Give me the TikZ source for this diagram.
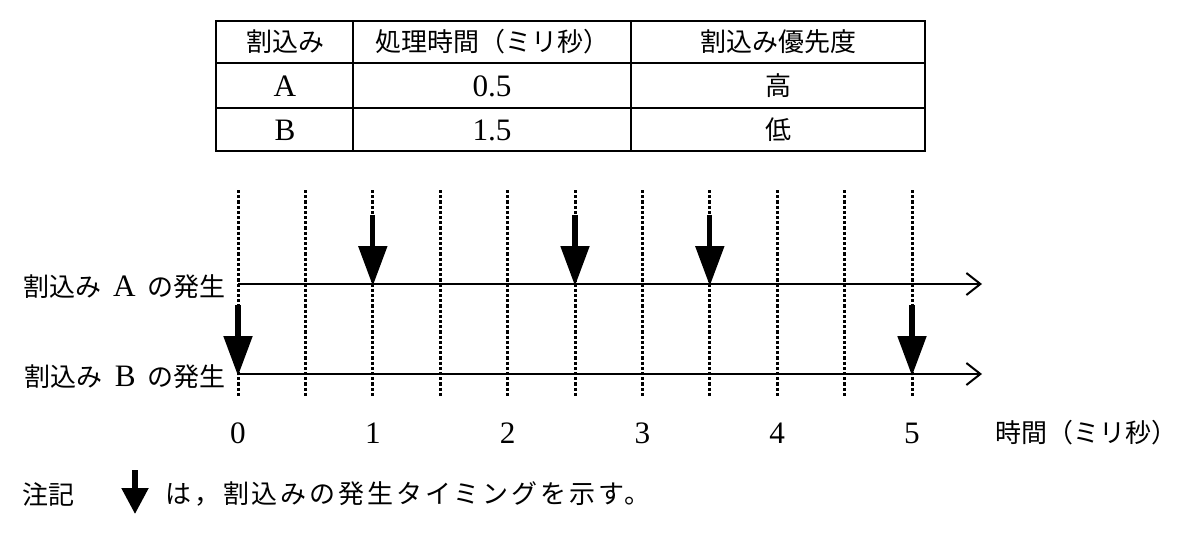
\documentclass[tikz,border=0pt]{standalone}
\usepackage{fontspec}
\setmainfont{Liberation Serif}[Scale=1.2]
\newfontfamily\cjk{Noto Sans CJK JP}
\newfontfamily\cjkwide{Noto Sans CJK JP}[LetterSpace=11]
\usetikzlibrary{arrows.meta}
\tikzset{
  txt/.style={font=\fontsize{13}{15}\selectfont, inner sep=0pt},
  grid/.style={line width=1.5pt, dash pattern=on 1.6pt off 1pt},
  axis/.style={line width=1pt, -{Straight Barb[length=7pt,width=11pt,line width=1pt]}},
  ev/.style={line width=2.6pt, -{Triangle[width=14pt,length=20pt]}, shorten >=-1pt},
  tbl/.style={line width=1pt}
}
\begin{document}
\begin{tikzpicture}[x=0.5pt,y=-0.5pt]
\path[use as bounding box] (0,0) rectangle (1200,546);
% table
\draw[tbl] (216,21) rectangle (925,151);
\draw[tbl] (216,63) -- (925,63);
\draw[tbl] (216,108) -- (925,108);
\draw[tbl] (353,21) -- (353,151);
\draw[tbl] (631,21) -- (631,151);
\node[txt] (h1) at (285,42) {\cjk 割込み};
\node[txt] (h2) at (492,42) {\cjk 処理時間（ミリ秒）};
\node[txt] (h3) at (778,42) {\cjk 割込み優先度};
\node[txt] (a1) at (285,86) {A};
\node[txt] (a2) at (492,86) {0.5};
\node[txt] (a3) at (778,86) {\cjk 高};
\node[txt] (b1) at (285,130) {B};
\node[txt] (b2) at (492,130) {1.5};
\node[txt] (b3) at (778,130) {\cjk 低};
% grid
\foreach \i in {0,...,10}{
  \pgfmathsetmacro\xx{238+67.4*\i}
  \coordinate (gt\i) at (\xx,190);
  \coordinate (gb\i) at (\xx,397);
  \draw[grid] (gt\i) -- (gb\i);
}
% axes
\coordinate (aS) at (238,284);
\coordinate (aE) at (982,284);
\coordinate (bS) at (238,374);
\coordinate (bE) at (982,374);
\draw[axis] (aS) -- (aE);
\draw[axis] (bS) -- (bE);
\node[txt, anchor=east] (la) at (226,287) {{\cjk 割込み}\hspace{6pt}A\hspace{6pt}{\cjk の発生}};
\node[txt, anchor=east] (lb) at (226,377) {{\cjk 割込み}\hspace{6pt}B\hspace{6pt}{\cjk の発生}};
% event arrows
\foreach \t/\n in {2/a1,5/a2,7/a3}{
  \pgfmathsetmacro\xx{238+67.4*\t}
  \coordinate (\n s) at (\xx,215);
  \coordinate (\n e) at (\xx,284);
  \draw[ev] (\n s) -- (\n e);
}
\foreach \t/\n in {0/b1,10/b2}{
  \pgfmathsetmacro\xx{238+67.4*\t}
  \coordinate (\n s) at (\xx,305);
  \coordinate (\n e) at (\xx,374);
  \draw[ev] (\n s) -- (\n e);
}
% ticks
\foreach \k in {0,...,5}{
  \pgfmathsetmacro\xx{238+134.8*\k}
  \node[txt] (t\k) at (\xx,433) {\k};
}
\node[txt, anchor=west] (tl) at (995,433) {\cjk 時間（ミリ秒）};
% note
\node[txt, anchor=west] (n1) at (22,494) {\cjk 注記};
\coordinate (ns) at (135,470);
\coordinate (ne) at (135,514);
\draw[line width=2.6pt, -{Triangle[width=13pt,length=13pt]}] (ns) -- (ne);
\node[txt, anchor=west] (n2) at (165,494) {\cjkwide は，割込みの発生タイミングを示す。};
\end{tikzpicture}
\end{document}
